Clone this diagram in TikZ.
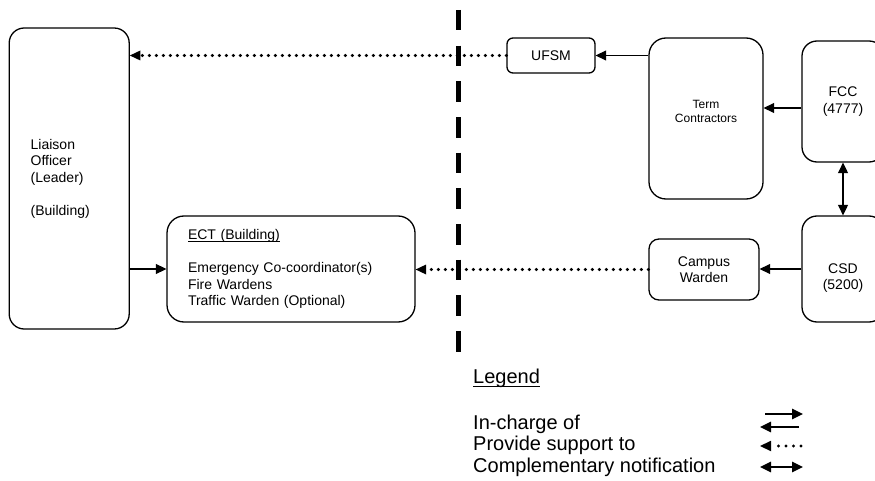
\documentclass[tikz,border=0pt]{standalone}
\usepackage{fontspec}
\setmainfont{Liberation Sans}
\usetikzlibrary{arrows.meta}
\newcommand\undl[1]{\setbox0\hbox{#1}\rlap{\rule[-0.2em]{\wd0}{0.07em}}\box0}

\begin{document}
\begin{tikzpicture}[x=1pt,y=-1pt,
  box/.style={draw,line width=1.3pt,rounded corners=15pt,inner sep=0pt,align=center,font=\fontsize{14}{16.5}\selectfont},
  incharge/.style={line width=1.3pt,-{Triangle[length=10.5pt,width=10pt]}},
  support/.style={line width=3.4pt,line cap=round,dash pattern=on 0pt off 7pt,-{Triangle[length=10.5pt,width=10pt,line width=0pt]}},
  notify/.style={line width=1.3pt,{Triangle[length=10.5pt,width=10pt]}-{Triangle[length=10.5pt,width=10pt]}},
  legendtext/.style={anchor=base west,inner sep=0pt,font=\fontsize{20}{21.5}\selectfont}]
\useasboundingbox (0,0) rectangle (875,481);
\clip (0,0) rectangle (875,481);
% left side
\node[box,minimum width=120pt,minimum height=301pt,text width=77pt,inner xsep=21.5pt,align=left] (liaison) at (69.2,178.5)
  {Liaison\\Officer\\(Leader)\\[16.5pt](Building)};
\node[box,rounded corners=17pt,minimum width=248pt,minimum height=106pt,text width=206pt,inner xsep=21pt,align=left] (ect) at (291,269)
  {\undl{ECT (Building)}\\[16.5pt]Emergency Co-coordinator(s)\\Fire Wardens\\Traffic Warden (Optional)};
% divider
\draw[line width=5pt,dash pattern=on 20.5pt off 15.17pt] (458.5,10) -- (458.5,352);
% right side
\node[box,rounded corners=6pt,minimum width=88pt,minimum height=35pt] (ufsm) at (551,55.5) {UFSM};
\node[box,rounded corners=17pt,minimum width=114pt,minimum height=161pt] (term) at (706,118.5) {};
\node[align=center,inner sep=0pt,font=\fontsize{12}{14}\selectfont] (termtext) at ([yshift=7.5pt]term.center) {Term\\Contractors};
\node[box,minimum width=82pt,minimum height=121pt] (fcc) at (843,101.5) {FCC\\(4777)};
\node[box,minimum width=82pt,minimum height=106pt] (csd) at (843,269) {};
\node[align=center,inner sep=0pt,font=\fontsize{14}{16.5}\selectfont] (csdtext) at ([yshift=-9pt]csd.center) {CSD\\(5200)};
\node[box,rounded corners=10pt,minimum width=110pt,minimum height=61pt] (campus) at (704,269.5) {Campus\\Warden};
% connectors
\draw[support] (ufsm.west) -- (ufsm.west -| liaison.east);
\draw[incharge] (ufsm.east -| term.west) -- (ufsm.east);
\draw[incharge] ([yshift=-6.5pt]fcc.west) -- ([yshift=-6.5pt]fcc.west -| term.east);
\draw[notify] (fcc.south) -- (csd.north);
\draw[incharge] (csd.west) -- (csd.west -| campus.east);
\draw[support] (campus.west) -- (campus.west -| ect.east);
\draw[incharge] (liaison.east |- ect.west) -- (ect.west);
% legend
\node[legendtext] (legend) at (473,383) {\undl{Legend}};
\foreach \txt [count=\i] in {In-charge of,Provide support to,Complementary notification} {
  \node[legendtext] (row\i) at (473,407.5+21.5*\i) {\txt};
}
\draw[line width=1.3pt,-{Triangle[length=11pt,width=10.5pt]}] (765,414) -- (803,414);
\draw[line width=1.3pt,-{Triangle[length=11pt,width=10.5pt]}] (799,427) -- (760,427);
\draw[line width=3.4pt,line cap=round,dash pattern=on 0pt off 7.5pt,-{Triangle[length=11pt,width=10.5pt,line width=0pt]}] (801,446) -- (760,446);
\draw[line width=1.3pt,{Triangle[length=11pt,width=10.5pt]}-{Triangle[length=11pt,width=10.5pt]}] (760,467) -- (803,467);
\end{tikzpicture}
\end{document}
